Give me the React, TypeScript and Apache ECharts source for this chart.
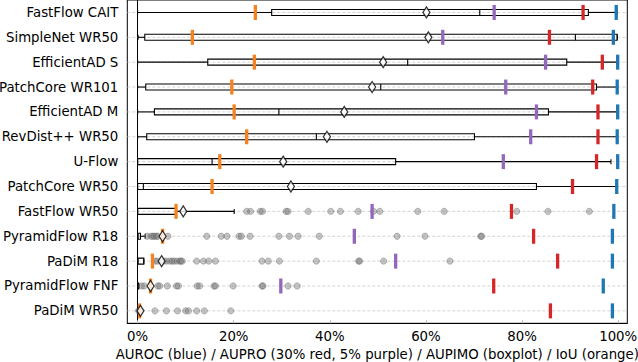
import React, { useEffect, useRef } from "react";
import * as echarts from "echarts";

const models = [
  "FastFlow CAIT",
  "SimpleNet WR50",
  "EfficientAD S",
  "PatchCore WR101",
  "EfficientAD M",
  "RevDist++ WR50",
  "U-Flow",
  "PatchCore WR50",
  "FastFlow WR50",
  "PyramidFlow R18",
  "PaDiM R18",
  "PyramidFlow FNF",
  "PaDiM WR50",
];

// AUPIMO boxplot statistics (%)
const whiskerLow = [0, 0.1, 0, 0, 0, 0, 0, 0, 0, 0, 0, 0, 0];
const quart1 = [27.9, 1.5, 14.6, 1.7, 3.5, 1.9, 0, 0, 0, 0, 0, 0, 0];
const medians = [71.2, 91.1, 56.2, 50.6, 29.4, 37.2, 15.5, 1.2, 0, 0.1, 0.1, 0, 0];
const quart3 = [93.8, 99.8, 89.3, 95.5, 85.5, 70.1, 53.7, 83.0, 8.1, 0.6, 1.3, 0.2, 0.2];
const whiskerHigh = [99.8, 99.8, 99.8, 99.8, 99.9, 99.8, 98.5, 99.7, 20.1, 1.6, 1.3, 0.3, 0.3];
const means = [60.1, 60.5, 51.1, 48.8, 43.0, 39.4, 30.3, 31.9, 9.5, 5.2, 5.0, 2.7, 0.6];

// Other metrics (%)
const auroc = [99.6, 99.0, 99.9, 99.8, 99.9, 99.8, 99.9, 99.7, 99.1, 98.8, 98.8, 96.9, 98.8];
const aupro30 = [92.7, 85.7, 96.7, 94.7, 95.8, 95.8, 95.5, 90.5, 77.8, 82.4, 87.4, 74.1, 85.9];
const aupro5: (number | null)[] = [74.2, 63.5, 84.9, 76.6, 83.0, 81.8, 76.1, null, 48.8, 45.1, 53.7, 29.8, null];
const iou = [24.5, 11.4, 24.3, 19.6, 20.1, 22.7, 17.1, 15.5, 8.0, 5.2, 3.1, 2.7, 0.4];

// Outliers (%)
const outFastFlowWR50 = [22.7, 23.5, 25.5, 26.0, 30.9, 31.3, 35.5, 40.2, 42.2, 45.9, 49.1, 50.4, 58.3, 63.8, 78.9, 85.4, 94.0];
const outPyramidFlowR18 = [2.0, 2.8, 3.2, 3.5, 3.9, 4.2, 6.3, 14.4, 17.4, 18.6, 21.1, 21.6, 23.4, 29.4, 31.6, 33.4, 37.8, 54.0, 59.8, 71.4, 71.6];
const outPaDiMR18 = [3.7, 4.1, 5.4, 6.0, 6.7, 7.2, 7.6, 8.2, 8.8, 9.0, 9.3, 12.3, 13.7, 14.8, 16.2, 25.9, 27.2, 29.5, 37.2, 46.0, 46.2, 51.2, 65.0];
const outPyramidFlowFNF = [0.8, 1.4, 4.2, 4.6, 6.2, 8.1, 8.5, 12.4, 12.9, 15.9, 16.2, 19.9, 25.9, 26.1, 31.3, 33.2];
const outPaDiMWR50 = [0.2, 0.4, 3.6, 6.0, 8.3, 10.0, 10.6, 12.3, 13.9, 19.4];

const outliersByModel: Record<string, number[]> = {
  "FastFlow WR50": outFastFlowWR50,
  "PyramidFlow R18": outPyramidFlowR18,
  "PaDiM R18": outPaDiMR18,
  "PyramidFlow FNF": outPyramidFlowFNF,
  "PaDiM WR50": outPaDiMWR50,
};

const xTicks = [0, 20, 40, 60, 80, 100];
const xTitle = "AUROC (blue) / AUPRO (30% red, 5% purple) / AUPIMO (boxplot) / IoU (orange)";

const FONT = "DejaVu Sans";
const FS = 13.3;

export default function App() {
  const ref = useRef<HTMLDivElement>(null);

  useEffect(() => {
    if (!ref.current) return;
    const chart = echarts.init(ref.current, undefined, { renderer: "svg" });

    const boxData = models.map((_, i) => [i, whiskerLow[i], quart1[i], medians[i], quart3[i], whiskerHigh[i]]);
    const outlierData: number[][] = [];
    models.forEach((m, i) => {
      (outliersByModel[m] || []).forEach((v) => outlierData.push([v, i]));
    });
    const pts = (arr: (number | null)[]) =>
      arr.map((v, i) => (v === null ? null : [v, i])).filter((d) => d !== null);

    const bar = (name: string, arr: (number | null)[], color: string, z: number) => ({
      type: "scatter",
      name,
      data: pts(arr),
      symbol: "rect",
      symbolSize: [3.3, 15],
      itemStyle: { color, opacity: 1 },
      z,
      silent: true,
    });

    chart.setOption({
      animation: false,
      grid: {
        left: 127.3,
        right: 10.7,
        top: 0,
        bottom: 38.7,
        show: true,
        borderColor: "#000",
        borderWidth: 1,
        containLabel: false,
        outerBoundsMode: "none",
      },
      xAxis: {
        type: "value",
        min: -2.14,
        max: 101.9,
        splitLine: { show: false },
        axisLine: { show: true, lineStyle: { color: "#000", width: 1 } },
        axisTick: {
          show: true,
          inside: true,
          length: 3,
          customValues: xTicks,
          lineStyle: { color: "#bbb" },
        },
        axisLabel: {
          customValues: xTicks,
          formatter: (v: number) => `${Math.round(v)}%`,
          fontFamily: FONT,
          fontSize: FS,
          color: "#000",
          margin: 7,
        },
        name: xTitle,
        nameLocation: "middle",
        nameGap: 24,
        nameTextStyle: { fontFamily: FONT, fontSize: FS, color: "#000" },
      },
      yAxis: {
        type: "category",
        data: models,
        inverse: true,
        boundaryGap: true,
        axisLine: { show: true, lineStyle: { color: "#000", width: 1 } },
        axisTick: { show: false },
        splitLine: { show: false },
        axisLabel: { fontFamily: FONT, fontSize: FS, color: "#000", margin: 9 },
      },
      series: [
        {
          type: "custom",
          name: "AUPIMO",
          data: boxData,
          encode: { x: [1, 2, 3, 4, 5], y: 0 },
          z: 1,
          silent: true,
          renderItem: (params: any, api: any) => {
            const cat = api.value(0);
            const pLo = api.coord([api.value(1), cat]);
            const pQ1 = api.coord([api.value(2), cat]);
            const pMed = api.coord([api.value(3), cat]);
            const pQ3 = api.coord([api.value(4), cat]);
            const pHi = api.coord([api.value(5), cat]);
            const y = pLo[1];
            const h = 6;
            const cap = 2.5;
            const cs = params.coordSys;
            const stroke = { stroke: "#000", lineWidth: 1.1 };
            return {
              type: "group",
              children: [
                {
                  type: "line",
                  shape: { x1: cs.x, y1: y, x2: cs.x + cs.width, y2: y },
                  style: { stroke: "#c8c8c8", lineWidth: 0.8, lineDash: [3, 2] },
                },
                { type: "line", shape: { x1: pLo[0], y1: y, x2: pQ1[0], y2: y }, style: stroke },
                { type: "line", shape: { x1: pQ3[0], y1: y, x2: pHi[0], y2: y }, style: stroke },
                { type: "line", shape: { x1: pLo[0], y1: y - cap, x2: pLo[0], y2: y + cap }, style: stroke },
                { type: "line", shape: { x1: pHi[0], y1: y - cap, x2: pHi[0], y2: y + cap }, style: stroke },
                {
                  type: "rect",
                  shape: { x: pQ1[0], y: y - h / 2, width: Math.max(pQ3[0] - pQ1[0], 0.5), height: h },
                  style: { fill: "none", stroke: "#000", lineWidth: 1.1 },
                },
                { type: "line", shape: { x1: pMed[0], y1: y - h / 2, x2: pMed[0], y2: y + h / 2 }, style: stroke },
              ],
            };
          },
        },
        {
          type: "scatter",
          name: "outliers",
          data: outlierData,
          symbol: "circle",
          symbolSize: 6.3,
          itemStyle: {
            color: "rgba(120,120,120,0.55)",
            borderColor: "rgba(70,70,70,0.5)",
            borderWidth: 0.8,
          },
          z: 2,
          silent: true,
        },
        bar("IoU", iou, "#f5821f", 3),
        bar("AUPRO 5%", aupro5, "#9467bd", 3),
        bar("AUPRO 30%", aupro30, "#d62728", 3),
        bar("AUROC", auroc, "#1f77b4", 3),
        {
          type: "scatter",
          name: "mean",
          data: pts(means),
          symbol: "diamond",
          symbolSize: [7, 11],
          itemStyle: { color: "#fff", borderColor: "#000", borderWidth: 1.3 },
          z: 4,
          silent: true,
        },
      ],
    });

    return () => chart.dispose();
  }, []);

  return (
    <div
      ref={ref}
      style={{ position: "fixed", left: 0, top: 0, width: 638, height: 362, background: "#fff" }}
    />
  );
}
